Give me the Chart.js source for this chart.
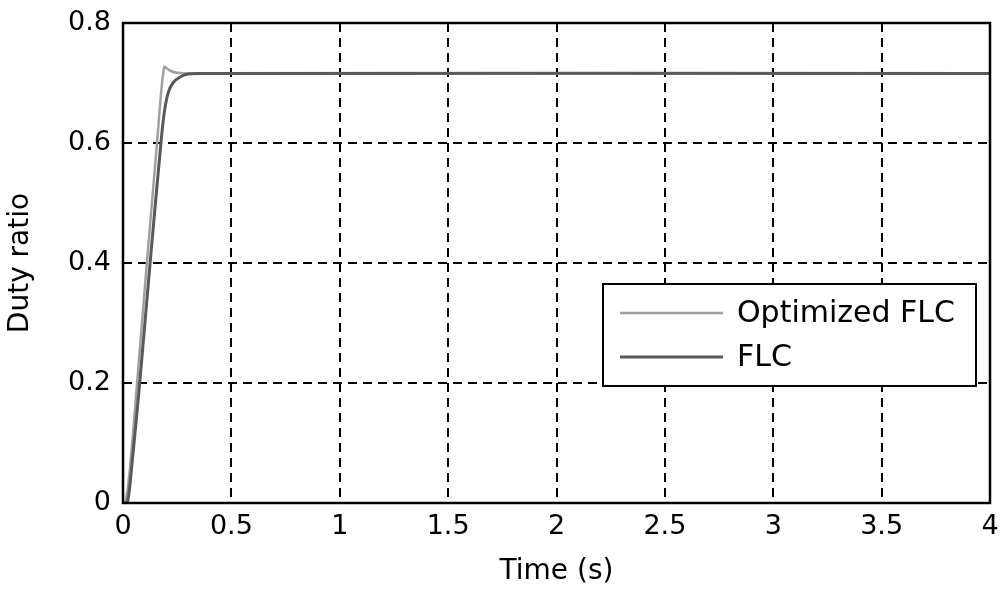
<!DOCTYPE html>
<html>
<head>
<meta charset="utf-8">
<script src="https://cdn.jsdelivr.net/npm/chart.js"></script>
<style>
  html, body { margin: 0; padding: 0; background: #fff; }
  #wrap { width: 1005px; height: 593px; }
</style>
</head>
<body>
<div id="wrap"><canvas id="myChart" width="1005" height="593"></canvas></div>

<script>
    // Datos (tiempo en s, razon de trabajo)
    var optTime = [0, 0.01, 0.03, 0.065, 0.11, 0.157, 0.175, 0.19, 0.2, 0.22, 0.25, 0.3, 4];
    var optDuty = [0, 0, 0.05, 0.2, 0.4, 0.6, 0.68, 0.727, 0.725, 0.72, 0.717, 0.716, 0.716];
    var flcTime = [0, 0.02, 0.04, 0.077, 0.125, 0.175, 0.19, 0.208, 0.23, 0.263, 0.3, 0.35, 4];
    var flcDuty = [0, 0, 0.06, 0.2, 0.4, 0.6, 0.65, 0.683, 0.7, 0.71, 0.715, 0.716, 0.716];
    var xTicks = [0, 0.5, 1, 1.5, 2, 2.5, 3, 3.5, 4];
    var yTicks = [0, 0.2, 0.4, 0.6, 0.8];
    var seriesNames = ['Optimized FLC', 'FLC'];

    function pts(xs, ys) {
        return xs.map(function (x, i) { return { x: x, y: ys[i] }; });
    }

    var fontFam = '"DejaVu Sans", sans-serif';

    // marco y leyenda dentro del area del grafico
    var framePlugin = {
        id: 'frame',
        afterDatasetsDraw: function (chart) {
            var c = chart.ctx, a = chart.chartArea;
            c.save();
            c.strokeStyle = '#000';
            c.lineWidth = 2.5;
            c.setLineDash([]);
            c.strokeRect(a.left, a.top, a.right - a.left, a.bottom - a.top);

            // leyenda
            var lx = 603, ly = 284, lw = 373, lh = 102;
            c.fillStyle = '#fff';
            c.fillRect(lx, ly, lw, lh);
            c.lineWidth = 2;
            c.strokeRect(lx, ly, lw, lh);
            var rows = [313, 357];
            c.font = '30px ' + fontFam;
            c.textBaseline = 'middle';
            c.textAlign = 'left';
            chart.data.datasets.forEach(function (ds, i) {
                c.strokeStyle = ds.borderColor;
                c.lineWidth = ds.borderWidth;
                c.beginPath();
                c.moveTo(620, rows[i]);
                c.lineTo(723, rows[i]);
                c.stroke();
                c.fillStyle = '#000';
                c.fillText(ds.label, 737, rows[i] + 1);
            });
            c.restore();
        }
    };

    var ctx = document.getElementById('myChart').getContext('2d');
    var myChart = new Chart(ctx, {
        type: 'line',
        data: {
            datasets: [{
                label: seriesNames[0],
                data: pts(optTime, optDuty),
                borderColor: '#a0a0a0',
                borderWidth: 2.5,
                pointRadius: 0,
                tension: 0.3,
                fill: false,
                order: 2
            }, {
                label: seriesNames[1],
                data: pts(flcTime, flcDuty),
                borderColor: '#595959',
                borderWidth: 3,
                pointRadius: 0,
                tension: 0.3,
                fill: false,
                order: 1
            }]
        },
        plugins: [framePlugin],
        options: {
            responsive: false,
            animation: false,
            layout: { padding: { top: 23, right: 15, left: 0, bottom: 0 } },
            plugins: { legend: { display: false }, tooltip: { enabled: false } },
            scales: {
                x: {
                    type: 'linear',
                    min: 0, max: 4,
                    afterBuildTicks: function (s) { s.ticks = xTicks.map(function (v) { return { value: v }; }); },
                    afterFit: function (s) {
                        s.height = 90;
                        s.paddingLeft = 0;
                        s.paddingRight = 0;
                    },
                    ticks: {
                        color: '#000',
                        font: { family: fontFam, size: 27 },
                        maxRotation: 0,
                        padding: 8,
                        callback: function (v) { return String(v); }
                    },
                    grid: {
                        color: '#000',
                        lineWidth: 2,
                        drawTicks: false,
                        tickLength: 0
                    },
                    border: { display: false, dash: [9, 6] },
                    title: {
                        display: true,
                        text: 'Time (s)',
                        color: '#000',
                        font: { family: fontFam, size: 28 },
                        padding: { top: 13 }
                    }
                },
                y: {
                    type: 'linear',
                    min: 0, max: 0.8,
                    afterBuildTicks: function (s) { s.ticks = yTicks.map(function (v) { return { value: v }; }); },
                    afterFit: function (s) {
                        s.width = 123;
                        s.paddingTop = 0;
                        s.paddingBottom = 0;
                    },
                    ticks: {
                        color: '#000',
                        font: { family: fontFam, size: 27 },
                        padding: 12,
                        callback: function (v) { return String(v); }
                    },
                    grid: {
                        color: '#000',
                        lineWidth: 2,
                        drawTicks: false,
                        tickLength: 0
                    },
                    border: { display: false, dash: [9, 6] },
                    title: {
                        display: true,
                        text: 'Duty ratio',
                        color: '#000',
                        font: { family: fontFam, size: 28 },
                        padding: { bottom: 0 }
                    }
                }
            }
        }
    });
</script>
</body>
</html>
